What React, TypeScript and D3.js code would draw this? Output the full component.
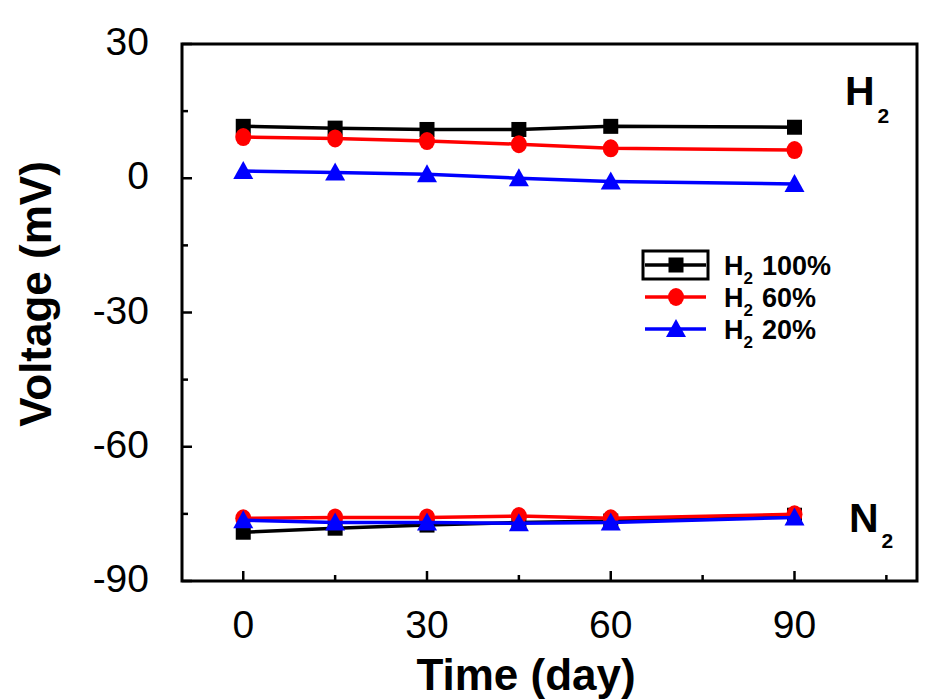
import React from "react";
import * as d3 from "d3";

const days = [0, 15, 30, 45, 60, 90];
const h2_100_H2 = [11.6, 11.2, 10.9, 10.9, 11.6, 11.4];
const h2_60_H2 = [9.2, 8.9, 8.3, 7.6, 6.7, 6.3];
const h2_20_H2 = [1.6, 1.3, 0.9, 0.0, -0.7, -1.3];
const h2_100_N2 = [-79.1, -78.2, -77.5, -76.9, -76.6, -75.3];
const h2_60_N2 = [-76.0, -75.8, -75.8, -75.5, -76.0, -75.1];
const h2_20_N2 = [-76.4, -76.9, -76.9, -77.1, -76.9, -75.8];
const xTicks = [0, 30, 60, 90];
const xMinor = [15, 45, 75, 105];
const yTicks = [30, 0, -30, -60, -90];
const yMinor = [15, -15, -45, -75];
const seriesNames = ["100%", "60%", "20%"];
const colors = ["#000000", "#ff0000", "#0000ff"];
const shapes = ["square", "circle", "triangle"];

export default function App() {
  const W = 937, H = 700;
  const x = d3.scaleLinear().domain([-10, 110]).range([182, 917]);
  const y = d3.scaleLinear().domain([-90, 30]).range([581, 44]);
  const line = d3.line<[number, number]>().x(d => x(d[0])).y(d => y(d[1]));
  const font = "Liberation Sans, Arial, sans-serif";

  const groups = [
    [h2_100_H2, h2_60_H2, h2_20_H2],
    [h2_100_N2, h2_60_N2, h2_20_N2],
  ];

  const marker = (shape: string, cx: number, cy: number, color: string, key: string) => {
    if (shape === "square") return <rect key={key} x={cx - 7.5} y={cy - 7.5} width={15} height={15} fill={color} />;
    if (shape === "circle") return <ellipse key={key} cx={cx} cy={cy} rx={8} ry={9} fill={color} />;
    return <path key={key} d={`M${cx},${cy - 10}L${cx + 10},${cy + 8}L${cx - 10},${cy + 8}Z`} fill={color} />;
  };

  const marks: React.ReactNode[] = [];
  groups.forEach((g, gi) => {
    g.forEach((vals, si) => {
      const pts = days.map((d, i) => [d, vals[i]] as [number, number]);
      marks.push(<path key={`l${gi}${si}`} d={line(pts) || ""} fill="none" stroke={colors[si]} strokeWidth={3.5} />);
      pts.forEach((p, i) => marks.push(marker(shapes[si], x(p[0]), y(p[1]), colors[si], `m${gi}${si}${i}`)));
    });
  });

  const legY = [265, 297, 329];
  const x0 = x(-10), x1 = x(110), yTop = y(30), yBot = y(-90);

  return (
    <svg width={W} height={H} style={{ position: "absolute", left: 0, top: 0, background: "#fff" }}>
      {marks}
      {/* frame */}
      <rect x={x0} y={yTop} width={x1 - x0} height={yBot - yTop} fill="none" stroke="#000" strokeWidth={3} />
      {yTicks.map(t => <line key={`yt${t}`} x1={x0} x2={x0 + 10} y1={y(t)} y2={y(t)} stroke="#000" strokeWidth={2.5} />)}
      {yMinor.map(t => <line key={`ym${t}`} x1={x0} x2={x0 + 6} y1={y(t)} y2={y(t)} stroke="#000" strokeWidth={2.5} />)}
      {xTicks.map(t => <line key={`xt${t}`} x1={x(t)} x2={x(t)} y1={yBot} y2={yBot - 10} stroke="#000" strokeWidth={2.5} />)}
      {xMinor.map(t => <line key={`xm${t}`} x1={x(t)} x2={x(t)} y1={yBot} y2={yBot - 6} stroke="#000" strokeWidth={2.5} />)}
      {yTicks.map(t => (
        <text key={`yl${t}`} x={149} y={y(t) + 11} textAnchor="end" fontFamily={font} fontSize={39}>{t}</text>
      ))}
      {xTicks.map(t => (
        <text key={`xl${t}`} x={x(t)} y={638} textAnchor="middle" fontFamily={font} fontSize={39}>{t}</text>
      ))}
      <text x={526} y={690} textAnchor="middle" fontFamily={font} fontSize={44} fontWeight="bold">Time (day)</text>
      <text transform={`translate(51,294) rotate(-90)`} textAnchor="middle" fontFamily={font} fontSize={44} fontWeight="bold">Voltage (mV)</text>
      {/* annotations */}
      <text x={845} y={105} fontFamily={font} fontSize={41} fontWeight="bold">H<tspan fontSize={21} dy={18} dx={3}>2</tspan></text>
      <text x={849} y={532} fontFamily={font} fontSize={41} fontWeight="bold">N<tspan fontSize={21} dy={16} dx={3}>2</tspan></text>
      {/* legend */}
      <rect x={643} y={251} width={65} height={28} fill="none" stroke="#000" strokeWidth={3} />
      {seriesNames.map((n, i) => (
        <g key={`lg${i}`}>
          <line x1={645} x2={706} y1={legY[i]} y2={legY[i]} stroke={colors[i]} strokeWidth={3.5} />
          {marker(shapes[i], 676, legY[i], colors[i], `lm${i}`)}
          <text x={724} y={legY[i] + 10} fontFamily={font} fontSize={27} fontWeight="bold">
            H<tspan fontSize={17} dy={9}>2</tspan><tspan dy={-9} dx={9}>{n}</tspan>
          </text>
        </g>
      ))}
    </svg>
  );
}
